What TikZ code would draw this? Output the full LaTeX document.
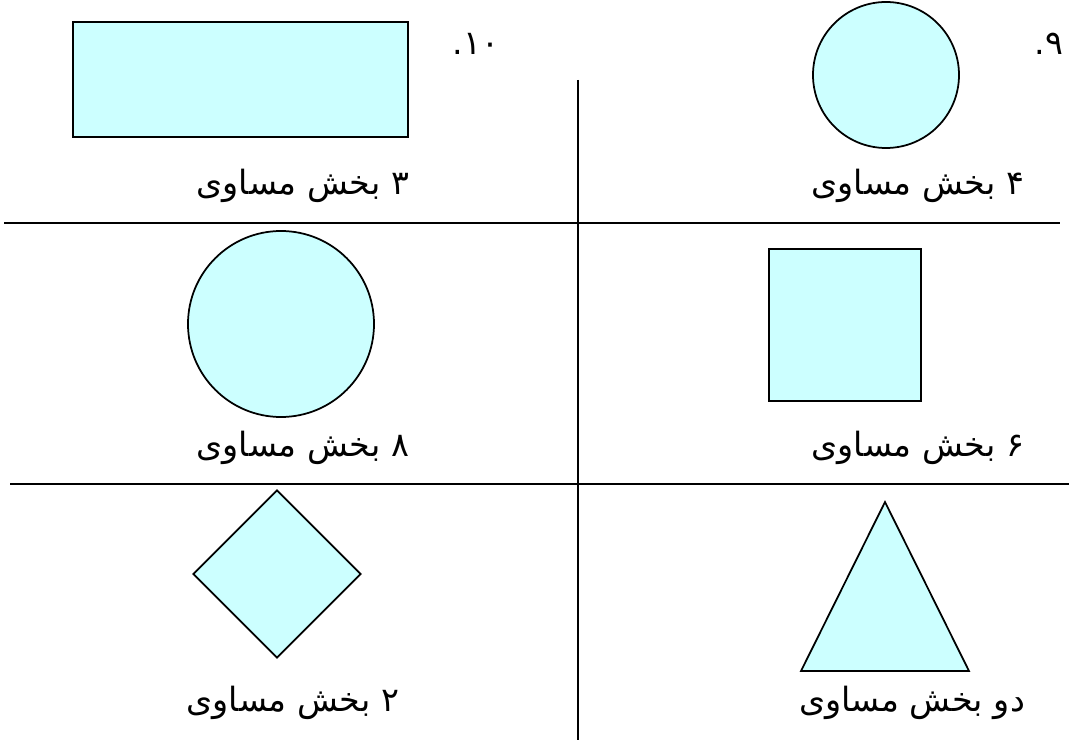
\documentclass[tikz,border=0pt]{standalone}
\usepackage{fontspec}
\usetikzlibrary{shapes.geometric}
\TeXXeTstate=1
\newfontfamily\arabicfont[Script=Arabic]{DejaVu Sans}
\definecolor{Pale}{HTML}{CCFFFF}
\tikzset{
  figbox/.style={draw=black,fill=Pale,line width=1pt,inner sep=0pt},
  gridline/.style={draw=black,line width=1.1pt},
  lbl/.style={font=\arabicfont\fontsize{19}{22}\selectfont,inner sep=0pt},
  num/.style={font=\arabicfont\fontsize{19}{22}\selectfont,inner sep=0pt}
}
\begin{document}
\begin{tikzpicture}[x=.02cm,y=-.02cm]
    \useasboundingbox (0,0) rectangle (1069,743);
    % grid
    \draw[gridline] (578,80)--(578,740);
    \draw[gridline] (4,223)--(1060,223);
    \draw[gridline] (10,484)--(1069,484);
    % top row
    \node[figbox,rectangle,minimum width=335*.02cm,minimum height=115*.02cm] (rect) at (240.5,79.5) {};
    \node[figbox,circle,minimum size=146*.02cm] (c4) at (886,75) {};
    \node[num] (n10) at (476,44) {\hbox{.}\hbox{۱۰}};
    \node[num] (n9) at (1049,44) {\hbox{.}\hbox{۹}};
    \node[lbl] (l3) at (303,186) {\beginR ۳ بخش مساوی\endR};
    \node[lbl] (l4) at (918,186) {\beginR ۴ بخش مساوی\endR};
    % middle row
    \node[figbox,circle,minimum size=186*.02cm] (c8) at (281,324) {};
    \node[figbox,rectangle,minimum size=152*.02cm] (sq) at (845,325) {};
    \node[lbl] (l8) at (303,448) {\beginR ۸ بخش مساوی\endR};
    \node[lbl] (l6) at (918,448) {\beginR ۶ بخش مساوی\endR};
    % bottom row
    \node[figbox,diamond,minimum width=168*.02cm,minimum height=168*.02cm] (dia) at (277,574) {};
    \coordinate (t1) at (885,502);
    \coordinate (t2) at (969,671);
    \coordinate (t3) at (801,671);
    \draw[figbox] (t1)--(t2)--(t3)--cycle;
    \node[lbl] (l2) at (293,703) {\beginR ۲ بخش مساوی\endR};
    \node[lbl] (ld) at (912,703) {\beginR دو بخش مساوی\endR};
  \end{tikzpicture}
\end{document}
